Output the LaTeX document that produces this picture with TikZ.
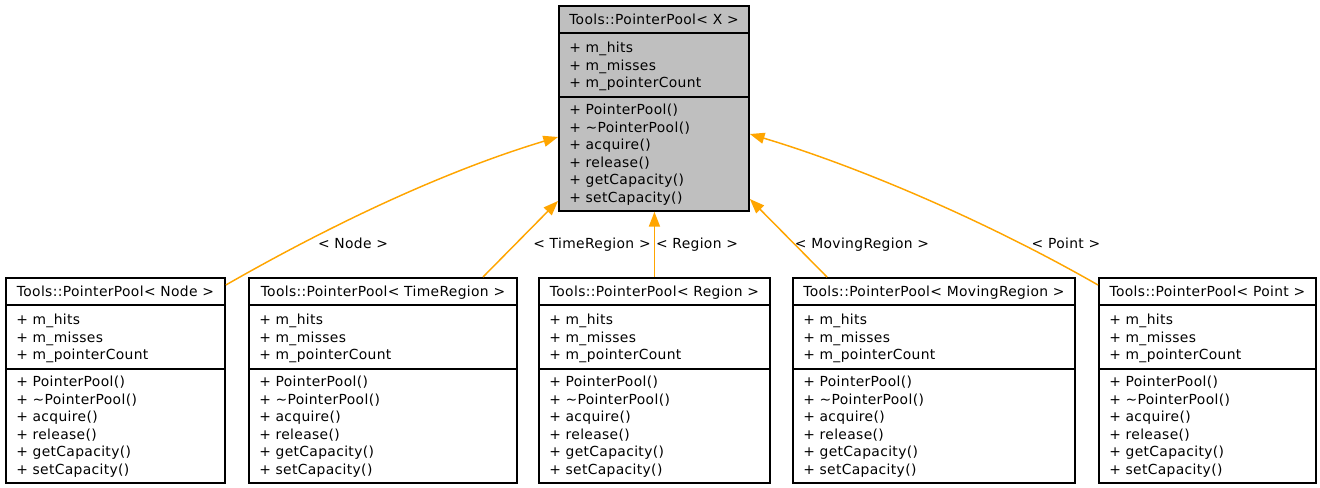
\documentclass[tikz,border=0pt]{standalone}
\usepackage{fontspec}
\setmainfont[LetterSpace=2.5]{DejaVu Sans}
\usetikzlibrary{arrows.meta,calc}
\definecolor{boxgray}{HTML}{BFBFBF}
\definecolor{inhorange}{HTML}{FFA500}
\newcommand\umlfont{\fontsize{10.4}{13.1}\selectfont}
\tikzset{
  classbox/.style={draw=black, line width=1.4pt, anchor=north west, inner sep=0pt, minimum height=153.75pt},
  boxtitle/.style={anchor=base, inner sep=0pt, font=\umlfont},
  members/.style={anchor=north west, inner sep=0pt, align=left, font=\umlfont},
  divider/.style={draw=black, line width=1.4pt},
  inherit/.style={draw=inhorange, line width=1.1pt, -{Triangle[length=11pt,width=8.25pt]}},
  tmpl/.style={anchor=base, inner sep=0pt, font=\umlfont},
}
\newcommand\umlclass[6]{%
  \pgfmathsetmacro\umlboxw{(#3-#2)*0.75}
  \node[classbox, fill=#5, minimum width=\umlboxw pt] (#1) at (#2,#4) {};
  \draw[divider] ($(#1.north west)+(0,28)$) -- ($(#1.north east)+(0,28)$);
  \draw[divider] ($(#1.north west)+(0,92)$) -- ($(#1.north east)+(0,92)$);
  \node[boxtitle] (#1-t) at ($(#1.north)+(0,19.5)$) {#6};
  \node[members] (#1-a) at ($(#1.north west)+(11,37)$) {+ m\_hits\\+ m\_misses\\+ m\_pointerCount};
  \node[members] (#1-m) at ($(#1.north west)+(11,99)$) {+ PointerPool()\\+ \textasciitilde PointerPool()\\+ acquire()\\+ release()\\+ getCapacity()\\+ setCapacity()};
}
\begin{document}
\begin{tikzpicture}[x=0.75pt,y=-0.75pt]
\useasboundingbox (0,0) rectangle (1320,488);
\umlclass{top}{558}{748}{5}{boxgray}{Tools::PointerPool< X >}
\umlclass{n1}{5}{224}{277}{white}{Tools::PointerPool< Node >}
\umlclass{n2}{248}{516}{277}{white}{Tools::PointerPool< TimeRegion >}
\umlclass{n3}{538}{769}{277}{white}{Tools::PointerPool< Region >}
\umlclass{n4}{792}{1074}{277}{white}{Tools::PointerPool< MovingRegion >}
\umlclass{n5}{1098}{1315}{277}{white}{Tools::PointerPool< Point >}

\draw[inherit] ($(n1.north east)+(0,8)$) .. controls ($(n1.north east)+(110,-55)$) and ($(top.north west)+(-110,165)$) .. ($(top.north west)+(0,132)$);
\draw[inherit] ($(n2.north west)+(235,0)$) -- ($(top.north west)+(0,196)$);
\draw[inherit] ($(n3.north -| top.south)+(0.5,0)$) -- ($(top.south)+(0.5,0)$);
\draw[inherit] ($(n4.north west)+(35,0)$) -- ($(top.north east)+(0,194)$);
\draw[inherit] ($(n5.north west)+(0,8)$) .. controls ($(n5.north west)+(-110,-55)$) and ($(top.north east)+(110,162)$) .. ($(top.north east)+(0,129)$);

\node[tmpl] (l1) at (353,248) {< Node >};
\node[tmpl] (l2) at (592,248) {< TimeRegion >};
\node[tmpl] (l3) at (697,248) {< Region >};
\node[tmpl] (l4) at (862,248) {< MovingRegion >};
\node[tmpl] (l5) at (1066,248) {< Point >};
\end{tikzpicture}
\end{document}
